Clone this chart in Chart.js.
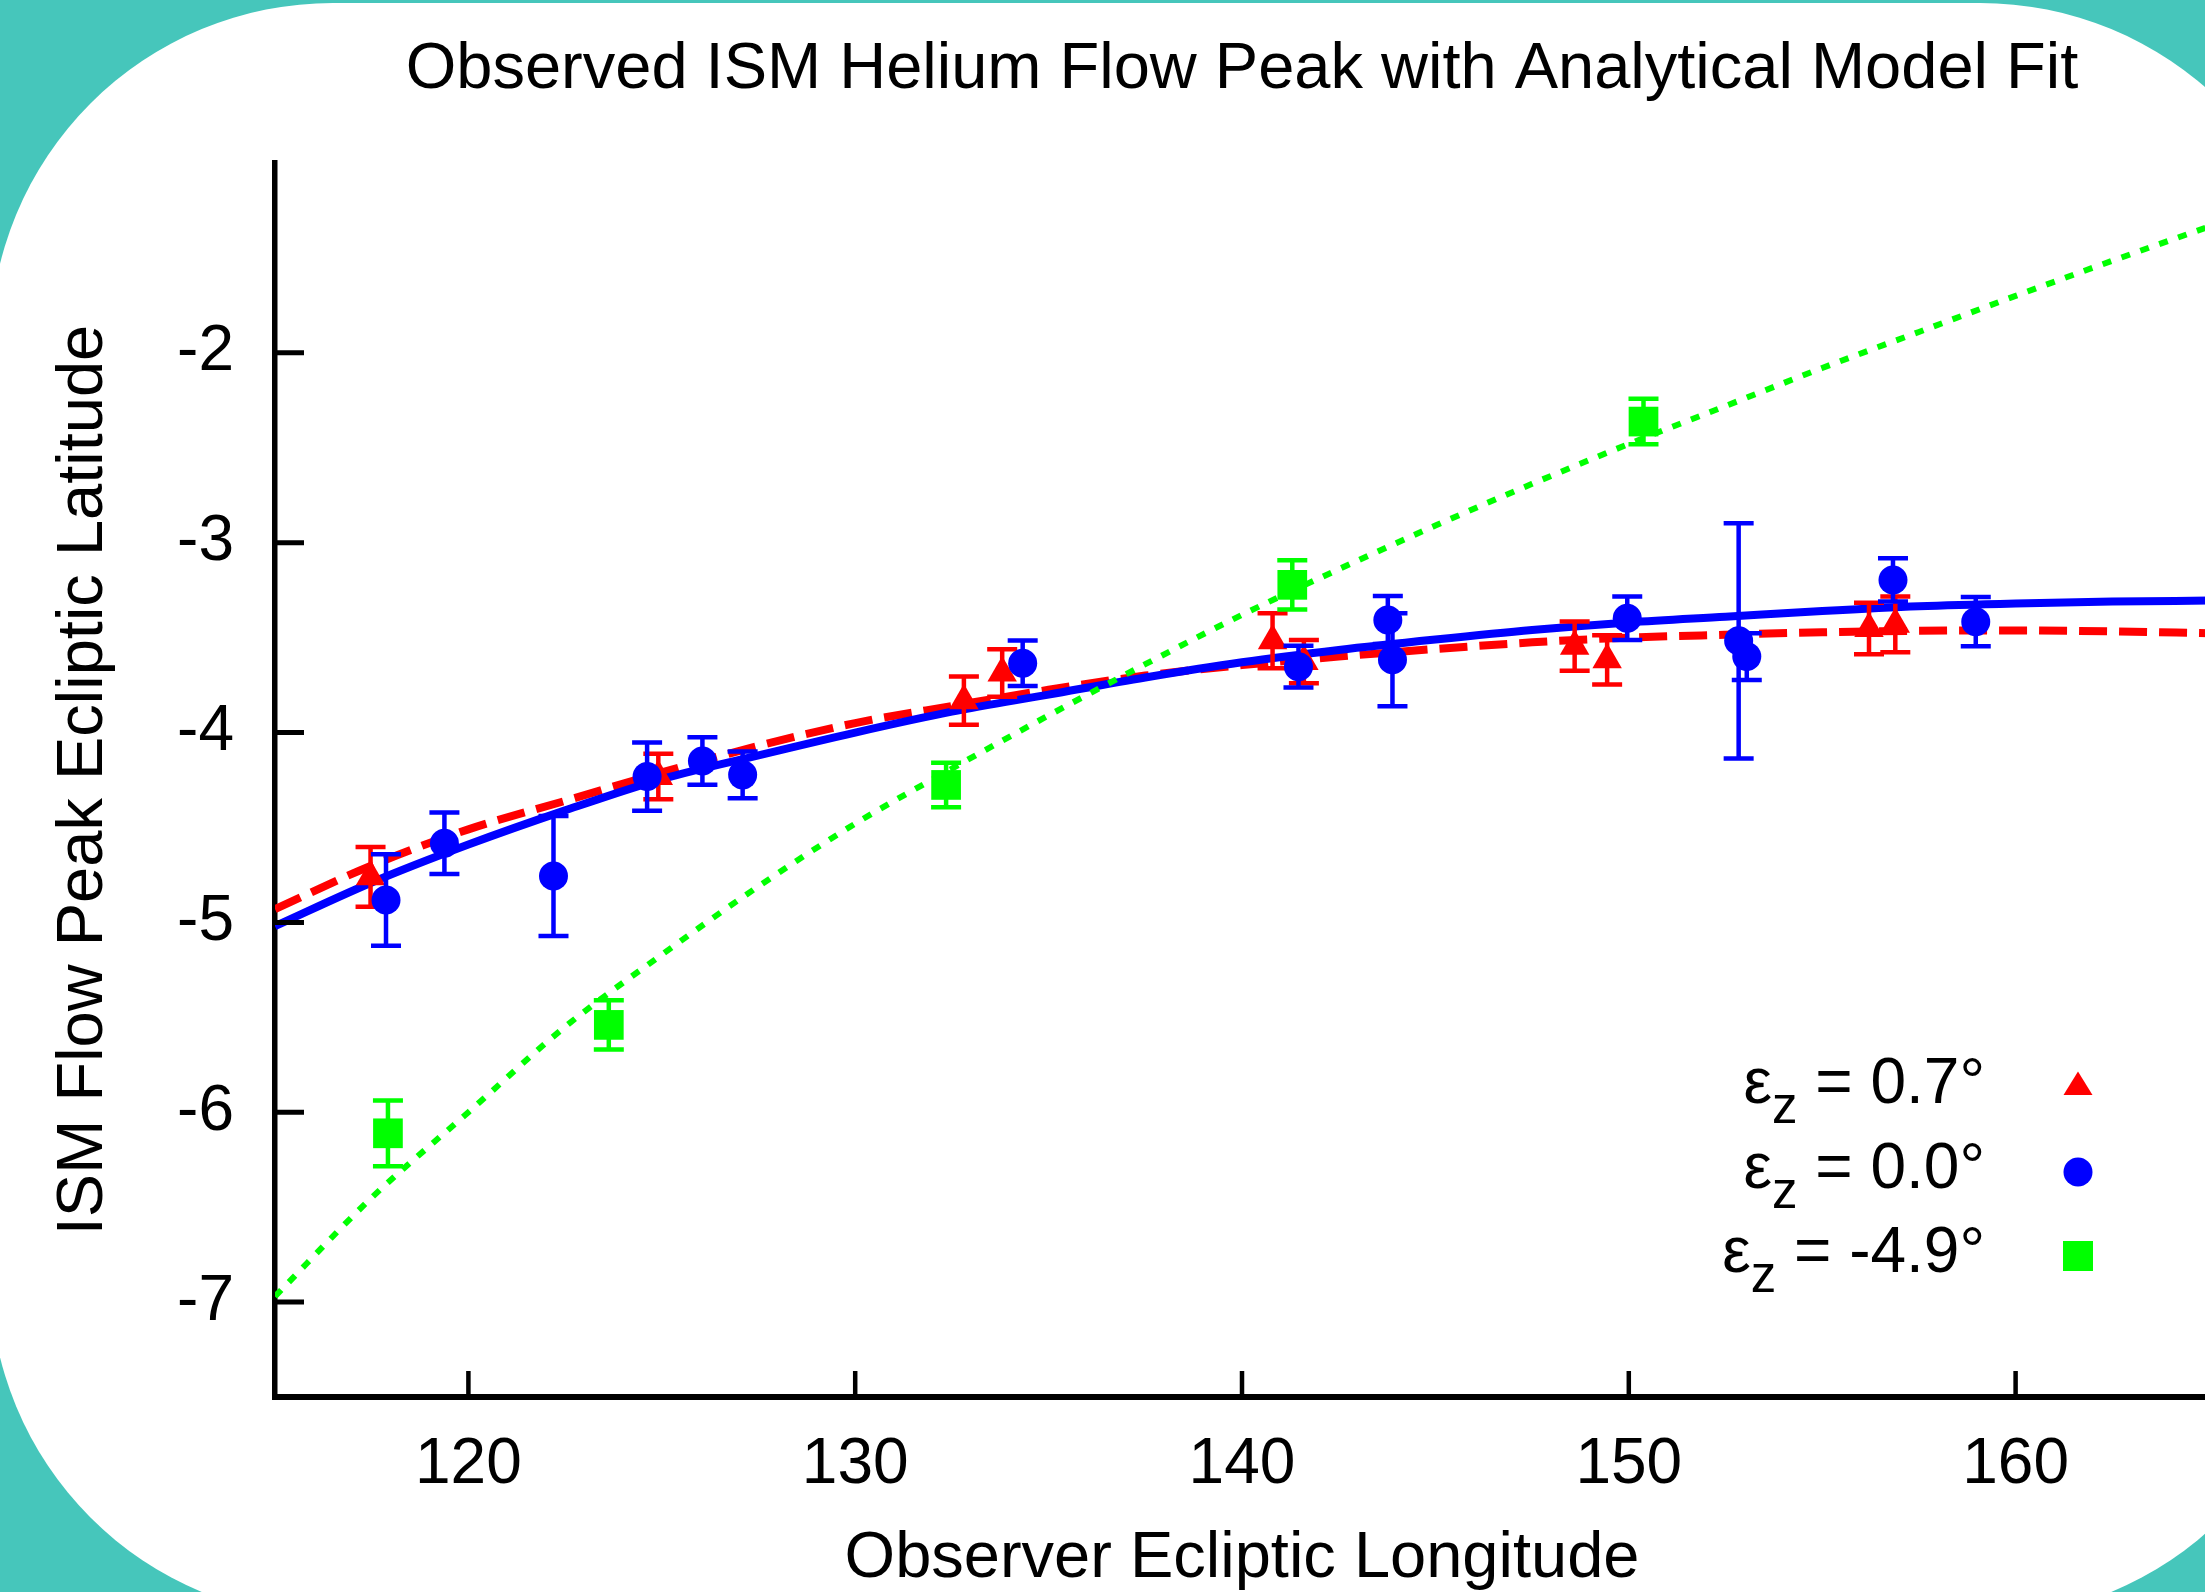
<!DOCTYPE html>
<html>
<head>
<meta charset="utf-8">
<script src="https://cdn.jsdelivr.net/npm/chart.js@4.4.1/dist/chart.umd.min.js"></script>
<style>
  html, body { margin: 0; padding: 0; overflow: hidden; background: #46C6BB; }
  #wrap { width: 2209px; height: 1592px; }
</style>
</head>
<body>
<div id="wrap"><canvas id="c" width="2209" height="1592" style="width:2209px;height:1592px"></canvas></div>
<script>
// ---------- data ----------
const chartTitle = 'Observed ISM Helium Flow Peak with Analytical Model Fit';
const xAxisTitle = 'Observer Ecliptic Longitude';
const yAxisTitle = 'ISM Flow Peak Ecliptic Latitude';
const xTickValues = [120, 130, 140, 150, 160];
const yTickValues = [-7, -6, -5, -4, -3, -2];
const seriesValues = ['0.7°', '0.0°', '-4.9°'];   // epsilon_z for each series

// eps_z = 0.7 (red triangles)
const redX   = [117.47, 124.91, 132.81, 133.80, 140.79, 141.60, 148.60, 149.44, 156.21, 156.89];
const redY   = [-4.76, -4.232, -3.832, -3.686, -3.516, -3.626, -3.545, -3.617, -3.452, -3.430];
const redErr = [0.157, 0.12, 0.127, 0.125, 0.145, 0.114, 0.13, 0.13, 0.135, 0.147];

// eps_z = 0.0 (blue circles)
const blueX   = [117.87, 119.38, 122.20, 124.62, 126.05, 127.09, 134.33, 141.46, 143.77, 143.89, 149.96, 152.84, 153.05, 156.83, 158.97];
const blueY   = [-4.882, -4.583, -4.756, -4.232, -4.15, -4.223, -3.635, -3.653, -3.407, -3.617, -3.398, -3.517, -3.600, -3.196, -3.416];
const blueErr = [0.241, 0.162, 0.316, 0.18, 0.125, 0.123, 0.12, 0.11, 0.126, 0.245, 0.114, 0.62, 0.123, 0.114, 0.13];

// eps_z = -4.9 (green squares)
const greenX   = [117.92, 123.63, 132.35, 141.30, 150.38];
const greenY   = [-6.111, -5.540, -4.276, -3.222, -2.362];
const greenErr = [0.173, 0.13, 0.117, 0.13, 0.12];

// model curves
const curveX     = [115, 117.5, 120, 122.5, 125, 127.5, 130, 132.5, 135, 137.5, 140, 142.5, 145, 147.5, 150, 152.5, 155, 157.5, 160, 162.5, 165];
const redCurve   = [-4.93, -4.70, -4.51, -4.36, -4.21, -4.07, -3.95, -3.86, -3.775, -3.70, -3.645, -3.60, -3.56, -3.525, -3.50, -3.485, -3.472, -3.464, -3.462, -3.467, -3.477];
const blueCurve  = [-5.02, -4.79, -4.59, -4.41, -4.245, -4.12, -4.00, -3.89, -3.80, -3.71, -3.63, -3.565, -3.51, -3.46, -3.42, -3.39, -3.36, -3.335, -3.32, -3.31, -3.305];
const greenCurve = [-6.97, -6.45, -6.00, -5.55, -5.17, -4.81, -4.48, -4.19, -3.91, -3.64, -3.38, -3.14, -2.91, -2.69, -2.48, -2.28, -2.08, -1.89, -1.70, -1.515, -1.335];

// ---------- styles ----------
const FONT = '"Liberation Sans", Arial, Helvetica, sans-serif';
const RED = '#ff0000', BLUE = '#0000ff', GREEN = '#00ff00';
const TEAL = '#46C6BB';

const pts = (xs, ys) => xs.map((x, i) => ({ x: x, y: ys[i] }));

const backgroundPlugin = {
  id: 'bgShape',
  beforeDraw(chart) {
    const ctx = chart.ctx;
    ctx.save();
    ctx.fillStyle = TEAL;
    ctx.fillRect(0, 0, chart.width, chart.height);
    const L = -10, T = 3, R = 2323, B = 1618, r = 343;
    ctx.beginPath();
    ctx.moveTo(L + r, T);
    ctx.lineTo(R - r, T);
    ctx.arc(R - r, T + r, r, -Math.PI / 2, 0);
    ctx.lineTo(R, B - r);
    ctx.arc(R - r, B - r, r, 0, Math.PI / 2);
    ctx.lineTo(L + r, B);
    ctx.arc(L + r, B - r, r, Math.PI / 2, Math.PI);
    ctx.lineTo(L, T + r);
    ctx.arc(L + r, T + r, r, Math.PI, Math.PI * 1.5);
    ctx.closePath();
    ctx.fillStyle = '#ffffff';
    ctx.fill();
    ctx.restore();
  }
};

const errorBarPlugin = {
  id: 'errorBars',
  beforeDatasetDraw(chart, args) {
    const ds = chart.data.datasets[args.index];
    if (!ds.errors) return;
    const ctx = chart.ctx, xs = chart.scales.x, ys = chart.scales.y;
    ctx.save();
    ctx.strokeStyle = ds.backgroundColor;
    ctx.lineWidth = 4.5;
    ctx.lineCap = 'butt';
    ds.data.forEach((p, i) => {
      const e = ds.errors[i];
      const px = xs.getPixelForValue(p.x);
      const y1 = ys.getPixelForValue(p.y - e);
      const y2 = ys.getPixelForValue(p.y + e);
      ctx.beginPath();
      ctx.moveTo(px, y1); ctx.lineTo(px, y2);
      ctx.moveTo(px - 15, y1); ctx.lineTo(px + 15, y1);
      ctx.moveTo(px - 15, y2); ctx.lineTo(px + 15, y2);
      ctx.stroke();
    });
    ctx.restore();
  }
};

const ticksAndTextPlugin = {
  id: 'ticksText',
  afterDraw(chart) {
    const ctx = chart.ctx, xs = chart.scales.x, ys = chart.scales.y;
    const area = chart.chartArea;
    ctx.save();
    // inward ticks
    ctx.strokeStyle = '#000';
    ctx.lineWidth = 5;
    ctx.beginPath();
    yTickValues.forEach(v => {
      const py = ys.getPixelForValue(v);
      ctx.moveTo(area.left, py); ctx.lineTo(area.left + 29, py);
    });
    ctx.stroke();
    ctx.lineWidth = 4.5;
    ctx.beginPath();
    xTickValues.forEach(v => {
      const px = xs.getPixelForValue(v);
      ctx.moveTo(px, area.bottom); ctx.lineTo(px, area.bottom - 26);
    });
    ctx.stroke();

    // title
    ctx.fillStyle = '#000';
    ctx.font = '65px ' + FONT;
    ctx.textAlign = 'center';
    ctx.textBaseline = 'alphabetic';
    ctx.fillText(chartTitle, 1242, 88);

    // legend
    const colors = [RED, BLUE, GREEN];
    const markerY = [1083.5, 1172, 1256];
    const rightX = 1985, markX = 2078;
    seriesValues.forEach((val, i) => {
      const base = 1103 + i * 84.5;
      ctx.textAlign = 'right';
      ctx.font = '64px ' + FONT;
      const main = ' = ' + val;
      ctx.fillText(main, rightX, base);
      const w1 = ctx.measureText(main).width;
      ctx.font = '51px ' + FONT;
      ctx.fillText('z', rightX - w1, base + 20);
      const wz = ctx.measureText('z').width;
      ctx.font = '64px ' + FONT;
      ctx.fillText('ε', rightX - w1 - wz, base);

      ctx.fillStyle = colors[i];
      ctx.beginPath();
      const cy = markerY[i];
      if (i === 0) {
        ctx.moveTo(markX, cy - 12);
        ctx.lineTo(markX + 14.5, cy + 11.5);
        ctx.lineTo(markX - 14.5, cy + 11.5);
        ctx.closePath();
      } else if (i === 1) {
        ctx.arc(markX, cy, 14.5, 0, Math.PI * 2);
      } else {
        ctx.rect(markX - 15, cy - 15, 30, 30);
      }
      ctx.fill();
      ctx.fillStyle = '#000';
    });
    ctx.restore();
  }
};

const lineDs = (label, ys, color, width, dash, order) => ({
  type: 'line', label: label, data: pts(curveX, ys),
  borderColor: color, backgroundColor: color, borderWidth: width, borderDash: dash,
  pointRadius: 0, pointHoverRadius: 0, fill: false,
  cubicInterpolationMode: 'monotone', order: order
});
const pointDs = (label, xs, ys, errs, color, style, radius, order) => ({
  type: 'scatter', label: label, data: pts(xs, ys), errors: errs,
  backgroundColor: color, borderColor: color, borderWidth: 0,
  pointStyle: style, pointRadius: radius, pointHoverRadius: radius, order: order
});

new Chart(document.getElementById('c'), {
  data: {
    datasets: [
      lineDs('model 0.7', redCurve, RED, 8, [28, 12], 10),
      lineDs('model 0.0', blueCurve, BLUE, 8, [], 9),
      lineDs('model -4.9', greenCurve, GREEN, 6, [9, 11], 8),
      pointDs('εz = ' + seriesValues[0], redX, redY, redErr, RED, 'triangle', 17, 7),
      pointDs('εz = ' + seriesValues[1], blueX, blueY, blueErr, BLUE, 'circle', 14.5, 6),
      pointDs('εz = ' + seriesValues[2], greenX, greenY, greenErr, GREEN, 'rect', 21, 5)
    ]
  },
  options: {
    responsive: false,
    animation: false,
    devicePixelRatio: 1,
    layout: { autoPadding: false, padding: { top: 163, left: 0, right: 0, bottom: 0 } },
    plugins: { legend: { display: false }, title: { display: false }, tooltip: { enabled: false } },
    scales: {
      x: {
        type: 'linear', min: 115, max: 165,
        afterFit: s => { s.height = 195; },
        afterBuildTicks: s => { s.ticks = xTickValues.map(v => ({ value: v })); },
        grid: { display: false, drawTicks: false },
        border: { display: true, width: 6, color: '#000' },
        ticks: { color: '#000', padding: 36, maxRotation: 0, autoSkip: false, font: { family: FONT, size: 64, lineHeight: 1 } },
        title: { display: true, text: xAxisTitle, color: '#000', padding: { top: 0, bottom: 0 }, font: { family: FONT, size: 65, lineHeight: 1 } }
      },
      y: {
        type: 'linear', min: -7.5, max: -1,
        afterFit: s => { s.width = 275; },
        afterBuildTicks: s => { s.ticks = yTickValues.map(v => ({ value: v })); },
        grid: { display: false, drawTicks: false },
        border: { display: true, width: 5.5, color: '#000' },
        ticks: { color: '#000', padding: 41, autoSkip: false, font: { family: FONT, size: 64, lineHeight: 1 } },
        title: { display: true, text: yAxisTitle, color: '#000', padding: { top: 52, bottom: 0 }, font: { family: FONT, size: 65, lineHeight: 1 } }
      }
    }
  },
  plugins: [backgroundPlugin, errorBarPlugin, ticksAndTextPlugin]
});
</script>
</body>
</html>
